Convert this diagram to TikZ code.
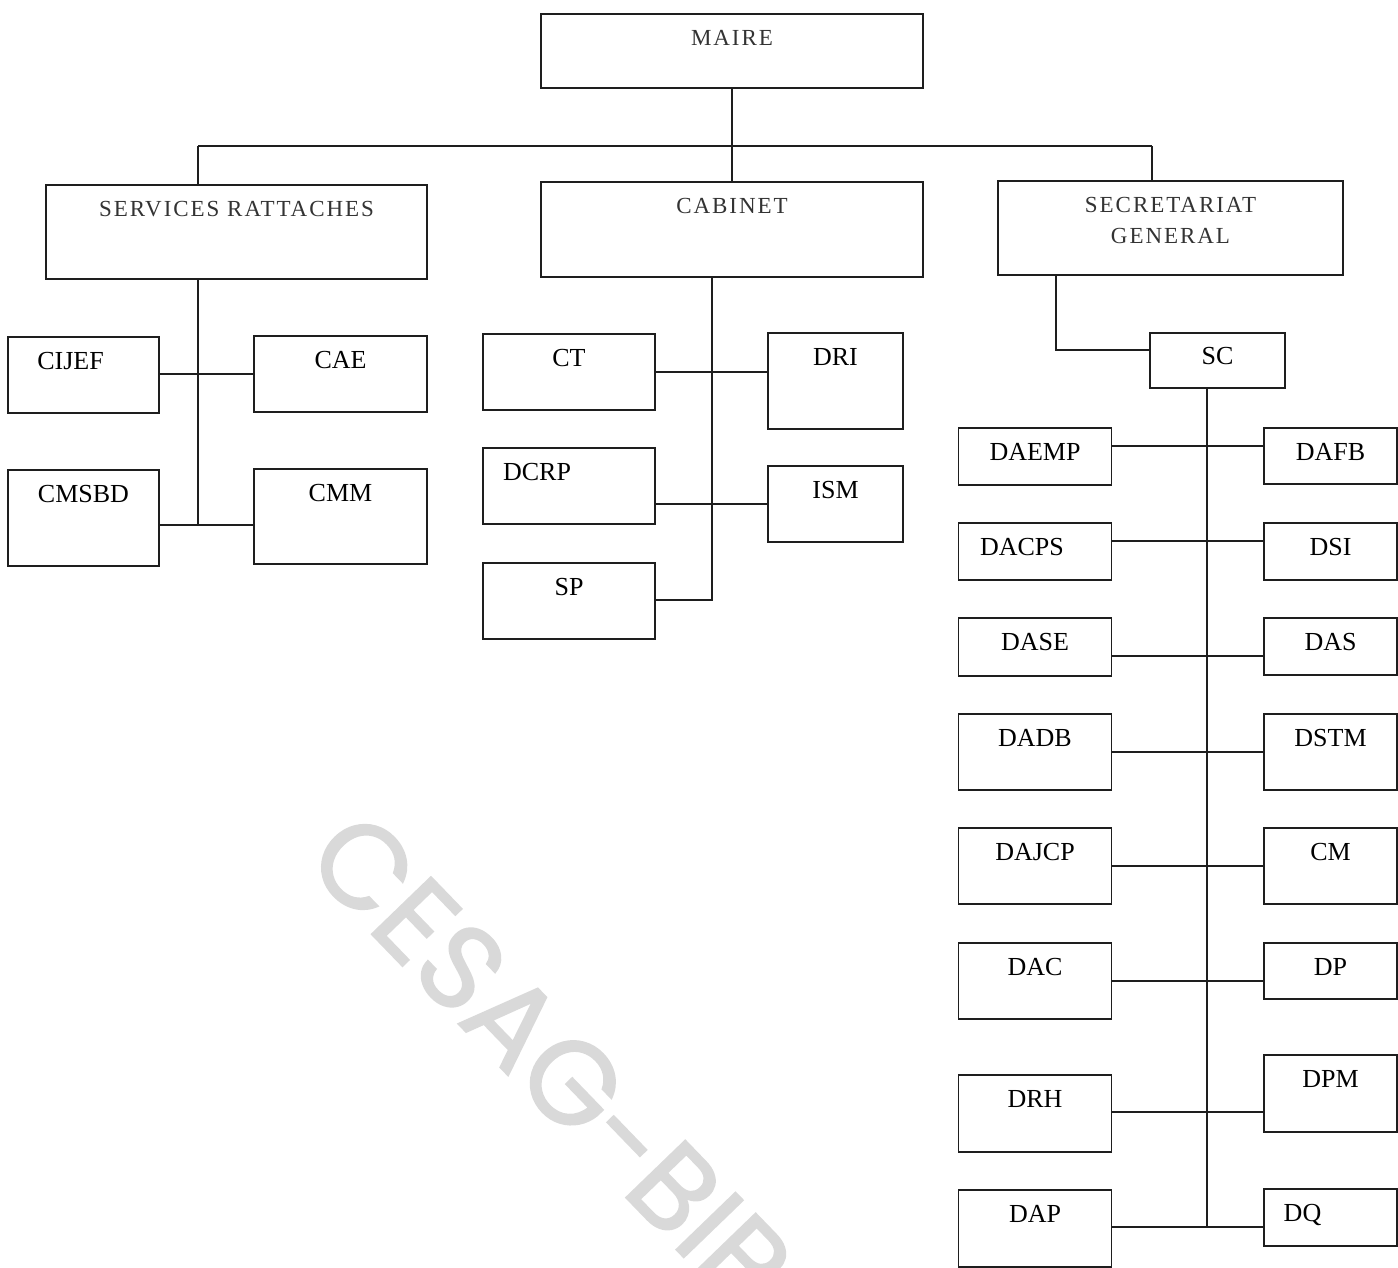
\documentclass[tikz,border=0pt]{standalone}
\usepackage{fontspec}
\setmainfont{Liberation Serif}
\newfontfamily\headfont[LetterSpace=8.5]{Liberation Serif}
\newfontfamily\markfont[FakeBold=1.5]{Poppins}
\definecolor{cInk}{HTML}{1E1E1E}
\definecolor{cHead}{HTML}{333333}
\definecolor{cMark}{HTML}{D9D9D9}
\tikzset{
  box/.style   = {rectangle, draw=cInk, line width=1.6pt, inner sep=0pt,
                  anchor=north, text height=33pt,
                  font=\fontsize{26}{28}\selectfont},
  head/.style  = {box, text height=32pt, align=center, text=cHead,
                  font=\headfont\fontsize{23}{31}\selectfont},
  lcol/.style  = {box, minimum width=153pt},
  rcol/.style  = {box, minimum width=133pt},
  nudge/.style = {execute at begin node={\hspace*{-#1}\hspace*{-#1}}},
  wire/.style  = {draw=cInk, line width=1.5pt},
  wmark/.style = {font=\markfont\fontsize{118}{118}\selectfont, text=cMark,
                  inner sep=0pt},
}
\begin{document}
\begin{tikzpicture}[x=1pt, y=-1pt]
  \useasboundingbox (0,0) rectangle (1398,1268);
  % ---- watermark ----
  \node[wmark, rotate=-46, anchor=base west] (mark) at (302,862) {CESAG-BIB};

  % ---- top levels ----
  \node[head, minimum width=382pt, text depth=42pt] (maire) at (732,13) {MAIRE};
  \node[head, minimum width=381pt, text depth=62pt] (srv) at (236.5,184) {SERVICES RATTACHES};
  \node[head, minimum width=382pt, text depth=63pt] (cab) at (732,181) {CABINET};
  \node[head, minimum width=345pt, text height=63pt, text depth=31pt] (sg) at (1170.5,180) {SECRETARIAT\\GENERAL};

  % ---- services rattaches ----
  \node[box, minimum width=151pt, text depth=43pt, nudge=13pt] (cijef) at (83.5,336) {CIJEF};
  \node[box, minimum width=173pt, text depth=43pt] (cae) at (340.5,335) {CAE};
  \node[box, minimum width=151pt, text depth=63pt] (cmsbd) at (83.5,469) {CMSBD};
  \node[box, minimum width=173pt, text depth=62pt] (cmm) at (340.5,468) {CMM};

  % ---- cabinet ----
  \node[box, minimum width=172pt, text depth=43pt] (ct) at (569,333) {CT};
  \node[box, minimum width=135pt, text depth=63pt] (dri) at (835.5,332) {DRI};
  \node[box, minimum width=172pt, text depth=43pt, nudge=32pt] (dcrp) at (569,447) {DCRP};
  \node[box, minimum width=135pt, text depth=43pt] (ism) at (835.5,465) {ISM};
  \node[box, minimum width=172pt, text depth=43pt] (sp) at (569,562) {SP};

  % ---- secretariat general ----
  \node[box, minimum width=135pt, text depth=23pt, text height=32pt] (sc) at (1217.5,332) {SC};
  \node[lcol, text depth=24pt] (daemp) at (1035,427) {DAEMP};
  \node[lcol, text depth=24pt, nudge=13pt] (dacps) at (1035,522) {DACPS};
  \node[lcol, text depth=25pt] (dase) at (1035,617) {DASE};
  \node[lcol, text depth=43pt] (dadb) at (1035,713) {DADB};
  \node[lcol, text depth=43pt] (dajcp) at (1035,827) {DAJCP};
  \node[lcol, text depth=43pt] (dac) at (1035,942) {DAC};
  \node[lcol, text depth=44pt] (drh) at (1035,1074) {DRH};
  \node[lcol, text depth=44pt] (dap) at (1035,1189) {DAP};
  \node[rcol, text depth=23pt] (dafb) at (1330.5,427) {DAFB};
  \node[rcol, text depth=24pt] (dsi) at (1330.5,522) {DSI};
  \node[rcol, text depth=24pt] (das) at (1330.5,617) {DAS};
  \node[rcol, text depth=43pt] (dstm) at (1330.5,713) {DSTM};
  \node[rcol, text depth=43pt] (cm) at (1330.5,827) {CM};
  \node[rcol, text depth=23pt] (dp) at (1330.5,942) {DP};
  \node[rcol, text depth=44pt] (dpm) at (1330.5,1054) {DPM};
  \node[rcol, text depth=24pt, nudge=28pt] (dq) at (1330.5,1188) {DQ};

  % ---- links ----
  \coordinate (busL) at (198,146);
  \coordinate (busR) at (1152,146);
  \draw[wire] (maire.south) -- (cab.north);
  \draw[wire] (busL) -- (busR);
  \draw[wire] (busL) -- (busL |- srv.north);
  \draw[wire] (busR) -- (busR |- sg.north);

  \coordinate (srEnd) at (198,525);
  \draw[wire] (srv.south -| srEnd) -- (srEnd);
  \draw[wire] (cae.west) -- (cae.west -| cijef.east);
  \draw[wire] (cmsbd.east |- srEnd) -- (cmm.west |- srEnd);

  \coordinate (cabEnd) at (712,600);
  \draw[wire] (cab.south -| cabEnd) -- (cabEnd) -- (cabEnd -| sp.east);
  \draw[wire] (ct.east) -- (ct.east -| dri.west);
  \draw[wire] (ism.west) -- (ism.west -| dcrp.east);

  \coordinate (sgKnee) at (1056,350);
  \coordinate (scEnd) at (1207,1227);
  \draw[wire] (sg.south -| sgKnee) -- (sgKnee) -- (sgKnee -| sc.west);
  \draw[wire] (sc.south -| scEnd) -- (scEnd);
  \draw[wire] (daemp.east |- 0,446) -- (dafb.west |- 0,446);
  \draw[wire] (dacps.east |- 0,541) -- (dsi.west |- 0,541);
  \draw[wire] (dase.east |- 0,656) -- (das.west |- 0,656);
  \draw[wire] (dadb.east) -- (dadb.east -| dstm.west);
  \draw[wire] (dajcp.east) -- (dajcp.east -| cm.west);
  \draw[wire] (dac.east) -- (dac.east -| dp.west);
  \draw[wire] (drh.east |- 0,1112) -- (dpm.west |- 0,1112);
  \draw[wire] (dap.east |- scEnd) -- (dq.west |- scEnd);
\end{tikzpicture}
\end{document}
